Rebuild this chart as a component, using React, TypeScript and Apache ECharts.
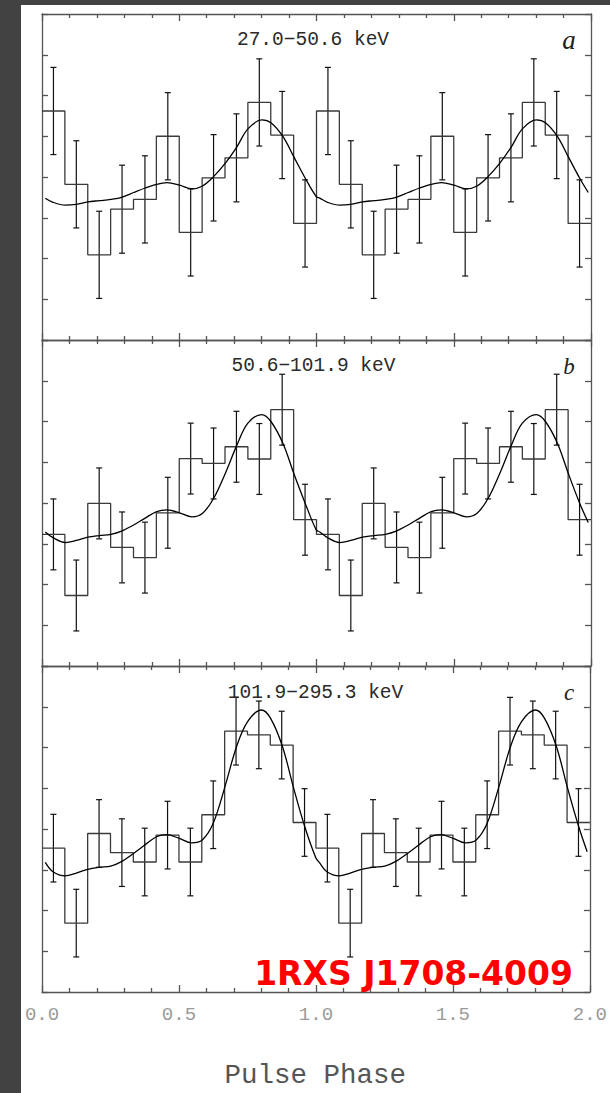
import React, { useEffect, useRef } from "react";
import * as echarts from "echarts";

// ---- data (one pulse cycle, shown twice) ----
const panelTitles = ["27.0\u221250.6 keV", "50.6\u2212101.9 keV", "101.9\u2212295.3 keV"];
const panelLetters = ["a", "b", "c"];
const xTickLabels = ["0.0", "0.5", "1.0", "1.5", "2.0"];

const ratesA = [5.62, 3.82, 2.09, 3.21, 3.45, 5.0, 2.64, 3.98, 4.47, 5.83, 5.03, 2.86];
const errsA = [1.07, 1.07, 1.07, 1.08, 1.07, 1.07, 1.07, 1.06, 1.08, 1.07, 1.07, 1.07];
const ratesB = [3.23, 1.73, 3.99, 2.91, 2.66, 3.76, 5.09, 4.97, 5.38, 5.08, 6.29, 3.59];
const errsB = [0.87, 0.87, 0.87, 0.87, 0.87, 0.87, 0.87, 0.87, 0.87, 0.87, 0.87, 0.87];
const ratesC = [3.53, 1.69, 3.89, 3.42, 3.19, 3.85, 3.19, 4.35, 6.4, 6.31, 6.06, 4.16];
const errsC = [0.83, 0.83, 0.83, 0.83, 0.83, 0.83, 0.83, 0.83, 0.83, 0.83, 0.83, 0.83];

const curvePhases = [0.012, 0.04, 0.085, 0.125, 0.167, 0.21, 0.251, 0.29, 0.334, 0.376, 0.418, 0.455, 0.501, 0.546, 0.585, 0.625, 0.668, 0.71, 0.75, 0.801, 0.834, 0.878, 0.917, 0.959, 0.999];
const curveA = [3.48, 3.38, 3.31, 3.33, 3.39, 3.42, 3.45, 3.5, 3.62, 3.73, 3.82, 3.86, 3.8, 3.71, 3.78, 4.01, 4.34, 4.74, 5.18, 5.4, 5.33, 4.99, 4.5, 3.97, 3.52];
const curveB = [3.29, 3.15, 3.03, 3.08, 3.16, 3.2, 3.23, 3.31, 3.46, 3.63, 3.79, 3.83, 3.76, 3.66, 3.75, 4.11, 4.73, 5.42, 5.96, 6.17, 6.0, 5.46, 4.73, 3.99, 3.34];
const curveC = [3.18, 2.95, 2.85, 2.92, 3.01, 3.06, 3.09, 3.2, 3.4, 3.61, 3.81, 3.86, 3.77, 3.66, 3.73, 4.14, 5.04, 6.02, 6.63, 6.92, 6.72, 6.02, 5.04, 4.06, 3.3];
const curveEndPhase = 1.99;
const curveEnd = [3.62, 3.52, 3.44];

const panels = [
  { rates: ratesA, errs: errsA, curve: curveA },
  { rates: ratesB, errs: errsB, curve: curveB },
  { rates: ratesC, errs: errsC, curve: curveC },
];

// ---- layout ----
const GRID_LEFT = 42;
const GRID_RIGHT = 19;
const GRID_TOPS = [14, 340, 666];
const GRID_H = 326;
const AXIS_COLOR = "#555";

export default function App() {
  const ref = useRef<HTMLDivElement>(null);
  useEffect(() => {
    if (!ref.current) return;
    const chart = echarts.init(ref.current, null, { renderer: "svg" });
    const nb = panels[0].rates.length;

    const grids: any[] = [];
    const xAxes: any[] = [];
    const yAxes: any[] = [];
    const series: any[] = [];
    const lineStyle = { color: AXIS_COLOR, width: 1.3 };

    panels.forEach((p, g) => {
      grids.push({ left: GRID_LEFT, right: GRID_RIGHT, top: GRID_TOPS[g], height: GRID_H });
      ["bottom", "top"].forEach((pos) => {
        xAxes.push({
          gridIndex: g,
          type: "value",
          position: pos,
          min: 0,
          max: 2,
          interval: 0.5,
          axisLine: { show: true, onZero: false, lineStyle },
          axisTick: { show: true, inside: true, length: 7, lineStyle },
          minorTick: { show: true, splitNumber: 5, length: 4, lineStyle },
          splitLine: { show: false },
          minorSplitLine: { show: false },
          axisLabel: {
            show: g === 2 && pos === "bottom",
            margin: 13,
            color: "#9a9a9a",
            fontFamily: "Liberation Mono",
            fontSize: 19,
            formatter: (v: number) => xTickLabels[Math.round(v / 0.5)] ?? "",
          },
        });
      });
      ["left", "right"].forEach((pos) => {
        yAxes.push({
          gridIndex: g,
          type: "value",
          position: pos,
          min: 0,
          max: 8,
          interval: 1,
          axisLine: { show: true, onZero: false, lineStyle },
          axisTick: { show: true, inside: true, length: 6, lineStyle },
          splitLine: { show: false },
          axisLabel: { show: false },
        });
      });

      const vals = p.rates.concat(p.rates);
      const errs = p.errs.concat(p.errs);
      const hist = vals.map((v, i) => [(i / nb), v]);
      hist.push([2, vals[vals.length - 1]]);
      const errData = vals.map((v, i) => [(i + 0.5) / nb, v, errs[i]]);
      const curve: number[][] = [];
      curvePhases.forEach((ph, i) => curve.push([ph, p.curve[i]]));
      curvePhases.forEach((ph, i) => {
        if (ph + 1 < curveEndPhase) curve.push([ph + 1, p.curve[i]]);
      });
      curve.push([curveEndPhase, curveEnd[g]]);

      series.push({
        type: "line",
        xAxisIndex: 2 * g,
        yAxisIndex: 2 * g,
        data: hist,
        step: "end",
        showSymbol: false,
        lineStyle: { color: "#3a3a3a", width: 1.3 },
        silent: true,
      });
      series.push({
        type: "custom",
        xAxisIndex: 2 * g,
        yAxisIndex: 2 * g,
        data: errData,
        encode: { x: 0, y: 1 },
        silent: true,
        renderItem: (_params: any, api: any) => {
          const x = api.value(0);
          const y = api.value(1);
          const e = api.value(2);
          const t = api.coord([x, y + e]);
          const b = api.coord([x, y - e]);
          const c = 3;
          const st = { stroke: "#111", lineWidth: 1.2 };
          return {
            type: "group",
            children: [
              { type: "line", shape: { x1: t[0], y1: t[1], x2: b[0], y2: b[1] }, style: st },
              { type: "line", shape: { x1: t[0] - c, y1: t[1], x2: t[0] + c, y2: t[1] }, style: st },
              { type: "line", shape: { x1: b[0] - c, y1: b[1], x2: b[0] + c, y2: b[1] }, style: st },
            ],
          };
        },
      });
      series.push({
        type: "line",
        xAxisIndex: 2 * g,
        yAxisIndex: 2 * g,
        data: curve,
        smooth: 0.35,
        showSymbol: false,
        lineStyle: { color: "#000", width: 1.3 },
        silent: true,
      });
    });

    const titleX = [313, 313.5, 315.5];
    const titleY = [39.5, 366, 692.5];
    const graphic: any[] = [
      { type: "rect", shape: { x: 0, y: 0, width: 21, height: 1093 }, style: { fill: "#424242" }, z: 100 },
      { type: "rect", shape: { x: 0, y: 0, width: 610, height: 5 }, style: { fill: "#424242" }, z: 100 },
    ];
    panelTitles.forEach((t, i) => {
      graphic.push({
        type: "text",
        x: titleX[i],
        y: titleY[i],
        style: {
          text: t,
          fill: "#2a2a2a",
          font: "19.5px 'Liberation Mono'",
          textAlign: "center",
          textVerticalAlign: "middle",
        },
        z: 50,
      });
      graphic.push({
        type: "text",
        x: 569,
        y: titleY[i],
        style: {
          text: panelLetters[i],
          fill: "#222",
          font: i === 0 ? "italic 27px 'Liberation Serif'" : "italic 23px 'Liberation Serif'",
          textAlign: "center",
          textVerticalAlign: "middle",
        },
        z: 50,
      });
    });
    graphic.push({
      type: "text",
      x: 413.5,
      y: 973.5,
      style: {
        text: "1RXS J1708-4009",
        fill: "#ff0000",
        font: "bold 33px 'DejaVu Sans'",
        textAlign: "center",
        textVerticalAlign: "middle",
      },
      z: 60,
    });
    graphic.push({
      type: "text",
      x: 315.3,
      y: 1075,
      style: {
        text: "Pulse Phase",
        fill: "#555",
        font: "27.5px 'Liberation Mono'",
        textAlign: "center",
        textVerticalAlign: "middle",
      },
      z: 50,
    });

    chart.setOption({
      animation: false,
      backgroundColor: "#ffffff",
      grid: grids,
      xAxis: xAxes,
      yAxis: yAxes,
      series,
      graphic,
    });
    return () => chart.dispose();
  }, []);
  return (
    <div
      ref={ref}
      style={{ position: "absolute", left: 0, top: 0, width: 610, height: 1093 }}
    />
  );
}
